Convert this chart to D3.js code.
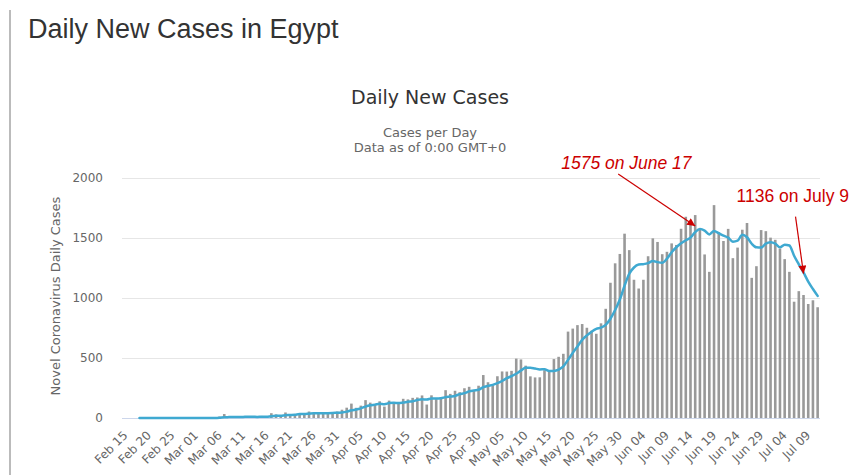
<!DOCTYPE html>
<html lang="en">
<head>
<meta charset="UTF-8">
<title>Daily New Cases in Egypt</title>
<script src="https://d3js.org/d3.v7.min.js"></script>
<style>
  body { margin: 0; background: #fff; }
  svg { display: block; }
  .page-title { font-family: "Liberation Sans", Arial, sans-serif; font-size: 27px; fill: #333; }
  .chart-title { font-family: "DejaVu Sans", sans-serif; font-size: 19px; fill: #333; }
  .subtitle { font-family: "DejaVu Sans", sans-serif; font-size: 13px; fill: #666; }
  .tick-label { font-family: "DejaVu Sans", sans-serif; font-size: 12px; fill: #666; }
  .axis-title { font-family: "DejaVu Sans", sans-serif; font-size: 13px; fill: #666; }
  .grid { stroke: #e6e6e6; stroke-width: 1; }
  .note { font-family: "Liberation Sans", Arial, sans-serif; font-size: 17.5px; fill: #cc0000; }
</style>
</head>
<body>
<svg width="850" height="475"></svg>
<script>
// one category per day, Feb 15 .. Jul 11 2020
const firstDay = new Date(2020, 1, 15);
const dayAfterLast = new Date(2020, 6, 12);
const fmt = d3.timeFormat("%b %d");
const categories = d3.timeDay.range(firstDay, dayAfterLast).map(fmt);

// daily new cases (bars)
const newCases = [
  0, 0, 0, 0, 0, 0, 0, 0, 0, 0, 0, 0, 0, 0, 0,          // Feb 15 - Feb 29
  1, 0, 0, 0, 0, 12, 33, 7, 4, 0, 8, 13, 13, 16, 17,    // Mar 01 - Mar 15
  0, 40, 30, 14, 46, 29, 33, 39, 36, 54, 39, 41, 40, 33, 47, 54, // Mar 16 - Mar 31
  69, 86, 120, 85, 103, 149, 128, 110, 139, 95, 145, 126, 125, 160, 155, // Apr 01 - Apr 15
  168, 171, 188, 112, 189, 157, 169, 232, 201, 227, 215, 248, 260, 226, 269, // Apr 16 - Apr 30
  358, 298, 272, 348, 388, 387, 393, 495, 488, 436, 347, 338, 339, 398, 399, // May 01 - May 15
  491, 510, 535, 720, 745, 774, 783, 752, 727, 702, 789, 910, 1127, 1289, 1367, 1536, // May 16 - May 31
  1399, 1152, 1079, 1152, 1348, 1497, 1467, 1365, 1385, 1455, 1442, 1577, 1677, 1618, 1691, // Jun 01 - Jun 15
  1567, 1363, 1218, 1774, 1547, 1475, 1576, 1332, 1420, 1569, 1625, 1168, 1265, 1566, 1557, // Jun 16 - Jun 30
  1503, 1485, 1412, 1324, 1218, 969, 1057, 1025, 950, 981, 923  // Jul 01 - Jul 11
];

// 7-day moving average (line)
const movingAvg = [
  null, null, null, 0, 0, 0, 0, 0, 0, 0, 0, 0, 0, 0, 0,
  0.1, 0.1, 0.1, 0.1, 0.1, 1.9, 6.6, 7.4, 8.0, 8.0, 9.1, 11.0, 11.1, 8.7, 10.1,
  9.6, 15.3, 18.4, 18.6, 23.3, 25.1, 27.4, 33.0, 32.4, 35.9, 39.4, 38.7, 40.3, 40.3, 41.4, 44.0,
  46.1, 52.9, 64.1, 70.6, 80.6, 95.1, 105.7, 111.6, 119.1, 115.6, 124.1, 127.4, 124.0, 128.6, 135.0,
  139.1, 150.0, 156.1, 154.1, 163.3, 162.9, 164.9, 174.0, 178.3, 183.9, 198.6, 207.0, 221.7, 229.9, 235.1,
  257.6, 267.7, 275.9, 290.1, 308.4, 331.4, 349.1, 368.7, 395.9, 419.3, 419.1, 412.0, 405.1, 405.9, 392.1,
  392.6, 403.1, 430.0, 484.6, 542.6, 596.3, 651.1, 688.4, 719.4, 743.3, 753.1, 776.7, 827.1, 899.4, 987.3, 1102.9,
  1202.4, 1254.3, 1278.4, 1282.0, 1290.4, 1309.0, 1299.1, 1294.3, 1327.6, 1381.3, 1422.7, 1455.4, 1481.1, 1502.7, 1549.3,
  1575.3, 1562.1, 1530.1, 1558.3, 1539.7, 1519.3, 1502.9, 1469.3, 1477.4, 1527.6, 1506.3, 1452.1, 1422.1, 1420.7, 1452.9,
  1464.7, 1452.7, 1422.3, 1444.6, 1437.9, 1352.6, 1281.1, 1212.9, 1136.4, 1074.9, 1017.6
];

const xTickLabels = [
  "Feb 15", "Feb 20", "Feb 25", "Mar 01", "Mar 06", "Mar 11", "Mar 16", "Mar 21", "Mar 26", "Mar 31",
  "Apr 05", "Apr 10", "Apr 15", "Apr 20", "Apr 25", "Apr 30", "May 05", "May 10", "May 15", "May 20",
  "May 25", "May 30", "Jun 04", "Jun 09", "Jun 14", "Jun 19", "Jun 24", "Jun 29", "Jul 04", "Jul 09"
];
const yTicks = [0, 500, 1000, 1500, 2000];

const svg = d3.select("svg");

const x = d3.scaleBand()
    .domain(categories)
    .range([123, 820])
    .paddingInner(0.45)
    .paddingOuter(0.225);
const y = d3.scaleLinear().domain([0, 2000]).range([418, 178]);
const cx = c => x(c) + x.bandwidth() / 2;

// left border of the page card
svg.append("line")
    .attr("x1", 10).attr("x2", 10).attr("y1", 10).attr("y2", 475)
    .attr("stroke", "#bbb").attr("stroke-width", 2);

svg.append("text").attr("class", "page-title")
    .attr("x", 28).attr("y", 38)
    .text("Daily New Cases in Egypt");

svg.append("text").attr("class", "chart-title")
    .attr("x", 430).attr("y", 104).attr("text-anchor", "middle")
    .text("Daily New Cases");
svg.append("text").attr("class", "subtitle")
    .attr("x", 430).attr("y", 137).attr("text-anchor", "middle")
    .text("Cases per Day");
svg.append("text").attr("class", "subtitle")
    .attr("x", 430).attr("y", 152).attr("text-anchor", "middle")
    .text("Data as of 0:00 GMT+0");

// grid + y labels
svg.selectAll(".grid")
    .data(yTicks.filter(d => d > 0))
    .enter().append("line")
    .attr("class", "grid")
    .attr("x1", 122).attr("x2", 820)
    .attr("y1", d => Math.round(y(d)) + 0.5)
    .attr("y2", d => Math.round(y(d)) + 0.5);

svg.selectAll(".ylab")
    .data(yTicks)
    .enter().append("text")
    .attr("class", "tick-label")
    .attr("x", 103)
    .attr("y", d => y(d))
    .attr("dy", "0.35em")
    .attr("text-anchor", "end")
    .text(d => d);

svg.append("text").attr("class", "axis-title")
    .attr("transform", "translate(55,296) rotate(-90)")
    .attr("text-anchor", "middle")
    .attr("dy", "0.35em")
    .text("Novel Coronavirus Daily Cases");

// bars
svg.selectAll(".bar")
    .data(newCases)
    .enter().append("rect")
    .attr("class", "bar")
    .attr("x", (d, i) => x(categories[i]))
    .attr("width", x.bandwidth())
    .attr("y", d => y(d))
    .attr("height", d => y(0) - y(d))
    .attr("fill", "#999");

// x axis line
svg.append("line")
    .attr("x1", 122).attr("x2", 820)
    .attr("y1", y(0) + 0.5).attr("y2", y(0) + 0.5)
    .attr("stroke", "#ccd6eb");

// moving average line
const line = d3.line()
    .defined(d => d.v != null)
    .x(d => cx(d.c))
    .y(d => y(d.v))
    .curve(d3.curveMonotoneX);

svg.append("path")
    .datum(movingAvg.map((v, i) => ({ c: categories[i], v: v })))
    .attr("fill", "none")
    .attr("stroke", "#3fa9d1")
    .attr("stroke-width", 2.5)
    .attr("stroke-linejoin", "round")
    .attr("stroke-linecap", "round")
    .attr("d", line);

// x labels
svg.selectAll(".xlab")
    .data(xTickLabels)
    .enter().append("text")
    .attr("class", "tick-label")
    .attr("text-anchor", "end")
    .attr("transform", d => `translate(${cx(d) + 3},436) rotate(-45)`)
    .text(d => d);

// red annotations
const defs = svg.append("defs");
defs.append("marker")
    .attr("id", "arrow")
    .attr("viewBox", "0 0 10 10")
    .attr("refX", 10).attr("refY", 5)
    .attr("markerWidth", 10).attr("markerHeight", 8)
    .attr("markerUnits", "userSpaceOnUse")
    .attr("orient", "auto")
  .append("path")
    .attr("d", "M0,0L10,5L0,10Z")
    .attr("fill", "#cc0000");

const notes = [
  { text: "1575 on June 17", italic: true, day: "Jun 15", value: 1600, from: [-77, -52], label: [-134, -57] },
  { text: "1136 on July 9", italic: false, day: "Jul 08", value: 1203, from: [-8, -57], label: [-67, -72] }
];

notes.forEach(n => {
  const tx = cx(n.day), ty = y(n.value);
  svg.append("line")
      .attr("x1", tx + n.from[0]).attr("y1", ty + n.from[1])
      .attr("x2", tx).attr("y2", ty)
      .attr("stroke", "#cc0000").attr("stroke-width", 1.2)
      .attr("marker-end", "url(#arrow)");
  svg.append("text").attr("class", "note")
      .attr("x", tx + n.label[0]).attr("y", ty + n.label[1])
      .style("font-style", n.italic ? "italic" : "normal")
      .text(n.text);
});
</script>
</body>
</html>
